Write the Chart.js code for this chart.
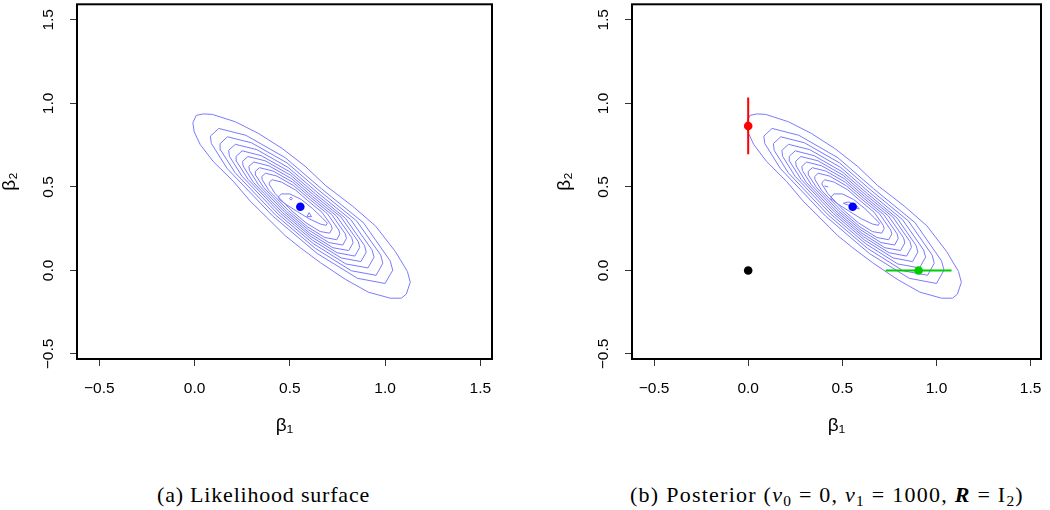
<!DOCTYPE html>
<html>
<head>
<meta charset="utf-8">
<script src="https://cdn.jsdelivr.net/npm/chart.js@4.4.1/dist/chart.umd.min.js"></script>
<style>
  html, body { margin: 0; padding: 0; background: #fff; }
  #wrap { position: relative; width: 1050px; height: 510px; overflow: hidden; }
  canvas { position: absolute; top: 0; }
  .cap { position: absolute; top: 484px; font-family: "Liberation Serif", serif; font-size: 22px; line-height: 22px; white-space: nowrap; color: #000; letter-spacing: 0.8px; }
  #capB { letter-spacing: 1.25px; }
  .cap sub { font-size: 70%; vertical-align: -0.25em; line-height: 0; }
</style>
</head>
<body>
<div id="wrap">
  <canvas id="left" width="525" height="460" style="left:0px;width:525px;height:460px"></canvas>
  <canvas id="right" width="525" height="460" style="left:525px;width:525px;height:460px"></canvas>
  <div class="cap" id="capA" style="left:157px">(a) Likelihood surface</div>
  <div class="cap" id="capB" style="left:630px">(b) Posterior (<i>v</i><sub>0</sub> = 0, <i>v</i><sub>1</sub> = 1000, <b><i>R</i></b> = I<sub>2</sub>)</div>
</div>
<script>
// ---------------- data ----------------
const xTicks = [-0.5, 0.0, 0.5, 1.0, 1.5];
const xTickLabels = ['\u22120.5', '0.0', '0.5', '1.0', '1.5'];
const yTicks = [-0.5, 0.0, 0.5, 1.0, 1.5];
const yTickLabels = ['\u22120.5', '0.0', '0.5', '1.0', '1.5'];

// likelihood contours (beta1, beta2)
const contour1 = [[-0.009,0.884],[0.009,0.928],[0.046,0.937],[0.093,0.934],[0.214,0.890],[0.334,0.821],[0.460,0.730],[0.581,0.623],[0.686,0.510],[0.828,0.386],[0.949,0.267],[1.054,0.113],[1.117,-0.006],[1.132,-0.071],[1.111,-0.142],[1.085,-0.166],[1.027,-0.166],[0.912,-0.130],[0.791,-0.053],[0.660,0.047],[0.555,0.136],[0.476,0.208],[0.382,0.314],[0.292,0.415],[0.203,0.534],[0.098,0.652],[0.030,0.753],[-0.002,0.830]];
const contour2 = [[0.083,0.804],[0.127,0.850],[0.269,0.809],[0.476,0.675],[0.665,0.490],[0.886,0.286],[1.027,0.057],[1.040,0.002],[1.000,-0.078],[0.855,-0.047],[0.643,0.102],[0.410,0.326],[0.171,0.610],[0.088,0.760]];
const contour3 = [[0.134,0.759],[0.173,0.800],[0.299,0.764],[0.485,0.644],[0.653,0.479],[0.851,0.296],[0.977,0.092],[0.988,0.043],[0.953,-0.029],[0.823,-0.002],[0.634,0.132],[0.425,0.332],[0.212,0.586],[0.138,0.719]];
const contour4 = [[0.179,0.719],[0.214,0.755],[0.327,0.723],[0.492,0.616],[0.643,0.468],[0.819,0.305],[0.932,0.122],[0.942,0.079],[0.910,0.015],[0.794,0.039],[0.625,0.159],[0.439,0.337],[0.249,0.564],[0.183,0.683]];
const contour5 = [[0.218,0.683],[0.250,0.716],[0.350,0.687],[0.499,0.591],[0.634,0.459],[0.791,0.313],[0.892,0.149],[0.901,0.110],[0.873,0.053],[0.769,0.075],[0.618,0.182],[0.451,0.342],[0.281,0.545],[0.221,0.652]];
const contour6 = [[0.252,0.653],[0.280,0.682],[0.371,0.656],[0.504,0.570],[0.626,0.451],[0.768,0.320],[0.859,0.173],[0.867,0.138],[0.841,0.086],[0.748,0.106],[0.612,0.202],[0.462,0.346],[0.308,0.528],[0.255,0.625]];
const contour7 = [[0.285,0.623],[0.311,0.649],[0.391,0.626],[0.510,0.549],[0.618,0.443],[0.744,0.327],[0.825,0.196],[0.832,0.165],[0.809,0.119],[0.726,0.136],[0.605,0.222],[0.472,0.350],[0.336,0.512],[0.288,0.598]];
const contour8 = [[0.319,0.593],[0.341,0.615],[0.412,0.595],[0.516,0.528],[0.610,0.436],[0.720,0.334],[0.791,0.219],[0.797,0.192],[0.778,0.152],[0.705,0.167],[0.599,0.242],[0.482,0.354],[0.363,0.496],[0.321,0.570]];
const contour9 = [[0.353,0.562],[0.372,0.582],[0.432,0.565],[0.521,0.507],[0.602,0.428],[0.697,0.340],[0.757,0.242],[0.763,0.219],[0.746,0.184],[0.684,0.197],[0.593,0.261],[0.493,0.358],[0.390,0.479],[0.355,0.543]];
const contour10 = [[0.392,0.527],[0.407,0.543],[0.456,0.529],[0.528,0.483],[0.593,0.419],[0.669,0.348],[0.718,0.269],[0.722,0.250],[0.709,0.223],[0.659,0.233],[0.585,0.285],[0.505,0.362],[0.423,0.460],[0.394,0.512]];
const contour11 = [[0.440,0.440],[0.455,0.458],[0.500,0.458],[0.560,0.425],[0.620,0.370],[0.670,0.315],[0.697,0.283],[0.690,0.270],[0.660,0.278],[0.600,0.310],[0.540,0.352],[0.480,0.395],[0.445,0.425]];
const tinyLeftA = [[0.498,0.430],[0.506,0.439],[0.514,0.430],[0.506,0.421]];
const tinyLeftB = [[0.590,0.322],[0.601,0.346],[0.614,0.322]];
const tinyRightA = [[0.405,0.506],[0.425,0.500]];
const tinyRightB = [[0.505,0.402],[0.535,0.410],[0.575,0.388],[0.590,0.368],[0.555,0.382]];

const mle = [0.555, 0.381];          // blue point
const priorMean = [0.0, 0.0];        // black point
const redPoint = [0.0, 0.865];       // red point
const redInterval = [0.695, 1.035];  // vertical extent at beta1 = 0
const greenPoint = [0.905, 0.0];     // green point
const greenInterval = [0.730, 1.080];// horizontal extent at beta2 = 0

// ---------------- helpers ----------------
const contourColor = '#7a7aff';
function closedPoly(arr) { return arr.concat([arr[0]]).map(p => ({x: p[0], y: p[1]})); }
function contourDs(arr, closed) {
  return { data: closed ? closedPoly(arr) : arr.map(p => ({x: p[0], y: p[1]})),
    showLine: true, borderColor: contourColor, borderWidth: 1, pointRadius: 0, fill: false, tension: 0, order: 5 };
}
function pointDs(p, color) {
  return { data: [{x: p[0], y: p[1]}], showLine: false, pointRadius: 4.3, pointBackgroundColor: color,
    pointBorderColor: color, pointBorderWidth: 0, order: 0 };
}
function lineDs(pts, color) {
  return { data: pts.map(p => ({x: p[0], y: p[1]})), showLine: true, borderColor: color, borderWidth: 2,
    pointRadius: 0, fill: false, order: 1 };
}
const contours = [contour1, contour2, contour3, contour4, contour5, contour6, contour7, contour8, contour9, contour10, contour11];

const boxPlugin = {
  id: 'box',
  afterDatasetsDraw(chart) {
    const a = chart.chartArea, c = chart.ctx;
    c.save(); c.strokeStyle = '#000'; c.lineWidth = 2;
    c.strokeRect(a.left, a.top, a.right - a.left, a.bottom - a.top);
    c.restore();
  }
};

function makeChart(id, datasets, cfg) {
  const tickFont = { family: 'Liberation Sans, Arial, sans-serif', size: 15.5 };
  const titleFont = { family: 'Liberation Sans, DejaVu Sans, sans-serif', size: 19, lineHeight: 1 };
  return new Chart(document.getElementById(id), {
    type: 'scatter',
    data: { datasets },
    plugins: [boxPlugin],
    options: {
      responsive: false, animation: false, devicePixelRatio: 1,
      events: [],
      layout: { padding: { left: cfg.padLeft, right: cfg.padRight, top: 1, bottom: 0 } },
      plugins: { legend: { display: false }, tooltip: { enabled: false }, title: { display: false } },
      scales: {
        x: {
          type: 'linear', min: cfg.xMin, max: cfg.xMax,
          afterBuildTicks: s => { s.ticks = xTicks.map(v => ({ value: v })); },
          afterFit: s => { s.height = 101; s.paddingLeft = 0; s.paddingRight = 0; },
          ticks: { callback: v => xTickLabels[xTicks.indexOf(v)], font: tickFont, color: '#000', padding: 13, maxRotation: 0, minRotation: 0, autoSkip: false },
          grid: { drawOnChartArea: false, drawTicks: true, tickLength: 7, color: '#333', lineWidth: 1 },
          border: { display: false },
          title: { display: true, text: 'β\u2081', font: titleFont, color: '#000', padding: { top: 0, bottom: 25 } }
        },
        y: {
          type: 'linear', min: -0.53, max: 1.593,
          afterBuildTicks: s => { s.ticks = yTicks.map(v => ({ value: v })); },
          afterFit: s => { s.width = cfg.yWidth; s.paddingTop = 0; s.paddingBottom = 0; },
          ticks: { callback: v => yTickLabels[yTicks.indexOf(v)], font: tickFont, color: '#000', padding: 6, minRotation: 90, maxRotation: 90, crossAlign: 'center', autoSkip: false },
          grid: { drawOnChartArea: false, drawTicks: true, tickLength: 7, color: '#333', lineWidth: 1 },
          border: { display: false },
          title: { display: true, text: 'β\u2082', font: titleFont, color: '#000', padding: { top: 0, bottom: 0 } }
        }
      }
    }
  });
}

// ---------------- left: likelihood ----------------
const leftSets = [pointDs(mle, '#0000ff')]
  .concat(contours.map(c => contourDs(c, true)))
  .concat([contourDs(tinyLeftA, true), contourDs(tinyLeftB, true)]);
makeChart('left', leftSets, { padLeft: 0, padRight: 33, yWidth: 77, xMin: -0.617, xMax: 1.561 });

// ---------------- right: posterior ----------------
const rightSets = [
  pointDs(mle, '#0000ff'),
  pointDs(priorMean, '#000000'),
  pointDs(redPoint, '#ff0000'),
  pointDs(greenPoint, '#00cd00'),
  lineDs([[redPoint[0], redInterval[0]], [redPoint[0], redInterval[1]]], '#ff0000'),
  lineDs([[greenInterval[0], greenPoint[1]], [greenInterval[1], greenPoint[1]]], '#00cd00')
].concat(contours.map(c => contourDs(c, true)))
 .concat([contourDs(tinyRightA, false), contourDs(tinyRightB, true)]);
makeChart('right', rightSets, { padLeft: 30, padRight: 9, yWidth: 77, xMin: -0.617, xMax: 1.555 });
</script>
</body>
</html>
